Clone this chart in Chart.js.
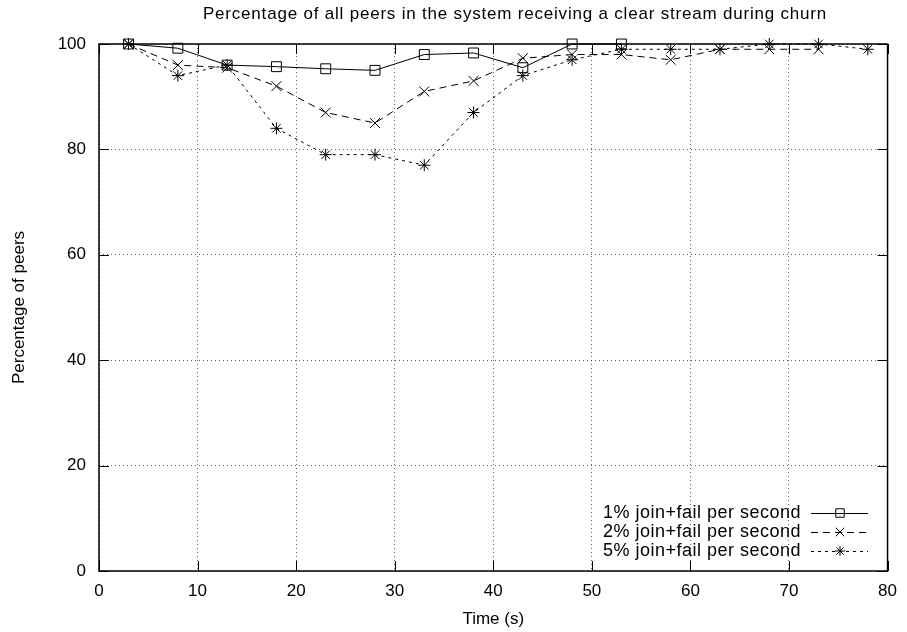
<!DOCTYPE html>
<html>
<head>
<meta charset="utf-8">
<script src="https://cdn.jsdelivr.net/npm/chart.js@4.4.0/dist/chart.umd.min.js"></script>
<style>
  html, body { margin: 0; padding: 0; background: #fff; }
</style>
</head>
<body>
<canvas id="churnChart" width="907" height="632"></canvas>
<script>
// Values (time in s, percentage of peers)
const time1 = [3, 8, 13, 18, 23, 28, 33, 38, 43, 48, 53];
const peers1 = [100, 99.2, 96, 95.7, 95.3, 95, 98, 98.3, 95.5, 100, 100];

const time2 = [3, 8, 13, 18, 23, 28, 33, 38, 43, 48, 53, 58, 63, 68, 73];
const peers2 = [100, 96, 95.5, 92, 87, 85, 91, 93, 97.3, 98, 98, 97, 99, 99, 99];

const time3 = [3, 8, 13, 18, 23, 28, 33, 38, 43, 48, 53, 58, 63, 68, 73, 78];
const peers3 = [100, 94, 96, 84, 79, 79, 77, 87, 94, 97, 99, 99, 99, 100, 100, 99];

const seriesLabels = [
  "1% join+fail per second",
  "2% join+fail per second",
  "5% join+fail per second",
];
const xTicks = [0, 10, 20, 30, 40, 50, 60, 70, 80];
const yTicks = [0, 20, 40, 60, 80, 100];

const FONT = "'Liberation Sans', Arial, Helvetica, sans-serif";

const toPoints = (xs, ys) => xs.map((x, i) => ({ x: x, y: ys[i] }));

const pointStyles = ["rect", "crossRot", "star"];
const pointRadii = [7, 7, 6];
const dashes = [[], [7, 5], [3, 4]];

// frame, inward tick marks, title and gnuplot-like key
const gnuplotFrame = {
  id: "gnuplotFrame",
  beforeDatasetsDraw(chart) {
    const { ctx, chartArea: a, scales } = chart;
    ctx.save();
    ctx.strokeStyle = "#000";
    ctx.lineWidth = 1;
    ctx.beginPath();
    xTicks.forEach((v) => {
      const px = Math.round(scales.x.getPixelForValue(v)) + 0.5;
      ctx.moveTo(px, a.bottom); ctx.lineTo(px, a.bottom - 10);
      ctx.moveTo(px, a.top); ctx.lineTo(px, a.top + 10);
    });
    yTicks.forEach((v) => {
      const py = Math.round(scales.y.getPixelForValue(v)) + 0.5;
      ctx.moveTo(a.left, py); ctx.lineTo(a.left + 10, py);
      ctx.moveTo(a.right, py); ctx.lineTo(a.right - 10, py);
    });
    ctx.stroke();
    ctx.lineWidth = 1.5;
    ctx.strokeRect(a.left, a.top, a.right - a.left, a.bottom - a.top);
    ctx.restore();
  },
  afterDraw(chart) {
    const ctx = chart.ctx;
    ctx.save();
    ctx.fillStyle = "#000";
    ctx.font = "17px " + FONT;
    ctx.letterSpacing = "0.8px";
    ctx.textAlign = "center";
    ctx.textBaseline = "middle";
    ctx.fillText("Percentage of all peers in the system receiving a clear stream during churn", 515, 14);

    // key, bottom right inside the plot
    const rows = [513, 532, 551];
    ctx.font = "18px " + FONT;
    ctx.letterSpacing = "0.5px";
    ctx.textAlign = "right";
    rows.forEach((y, i) => {
      ctx.fillStyle = "#000";
      ctx.fillText(seriesLabels[i], 801, y);
      ctx.strokeStyle = "#000";
      ctx.lineWidth = 1;
      ctx.setLineDash(dashes[i]);
      ctx.beginPath();
      ctx.moveTo(811, y + 0.5);
      ctx.lineTo(868, y + 0.5);
      ctx.stroke();
      ctx.setLineDash([]);
      ctx.fillStyle = "rgba(0,0,0,0)";
      Chart.helpers.drawPoint(ctx, {
        pointStyle: pointStyles[i], radius: pointRadii[i] - 1, rotation: 0, borderWidth: 1,
      }, 840, y);
    });
    ctx.restore();
  },
};

const datasets = [toPoints(time1, peers1), toPoints(time2, peers2), toPoints(time3, peers3)]
  .map((data, i) => ({
    label: seriesLabels[i],
    data: data,
    borderColor: "#000",
    borderWidth: 1,
    borderDash: dashes[i],
    pointStyle: pointStyles[i],
    pointRadius: pointRadii[i],
    pointBorderWidth: 1,
    pointBorderColor: "#000",
    pointBackgroundColor: "transparent",
    fill: false,
    tension: 0,
    clip: false,
  }));

new Chart(document.getElementById("churnChart").getContext("2d"), {
  type: "line",
  data: { datasets: datasets },
  options: {
    responsive: false,
    devicePixelRatio: 1,
    animation: false,
    layout: { padding: { top: 44, right: 9, left: 0, bottom: 0 } },
    plugins: {
      legend: { display: false },
      tooltip: { enabled: false },
      title: { display: false },
    },
    scales: {
      x: {
        type: "linear",
        min: 0,
        max: 80,
        afterBuildTicks: (s) => { s.ticks = xTicks.map((v) => ({ value: v })); },
        afterFit: (s) => { s.height = 61; },
        grid: { color: "rgba(0,0,0,0.6)", drawTicks: false, lineWidth: 1 },
        border: { display: false, dash: [1, 3] },
        ticks: { color: "#000", font: { family: FONT, size: 17 }, padding: 10, maxRotation: 0 },
        title: {
          display: true, text: "Time (s)", color: "#000",
          font: { family: FONT, size: 17 }, padding: { top: 0, bottom: 2 },
        },
      },
      y: {
        type: "linear",
        min: 0,
        max: 100,
        afterBuildTicks: (s) => { s.ticks = yTicks.map((v) => ({ value: v })); },
        afterFit: (s) => { s.width = 99; },
        grid: { color: "rgba(0,0,0,0.6)", drawTicks: false, lineWidth: 1 },
        border: { display: false, dash: [1, 3] },
        ticks: { color: "#000", font: { family: FONT, size: 17 }, padding: 13 },
        title: {
          display: true, text: "Percentage of peers", color: "#000",
          font: { family: FONT, size: 17 }, padding: { top: 9, bottom: 0 },
        },
      },
    },
  },
  plugins: [gnuplotFrame],
});
</script>
</body>
</html>
